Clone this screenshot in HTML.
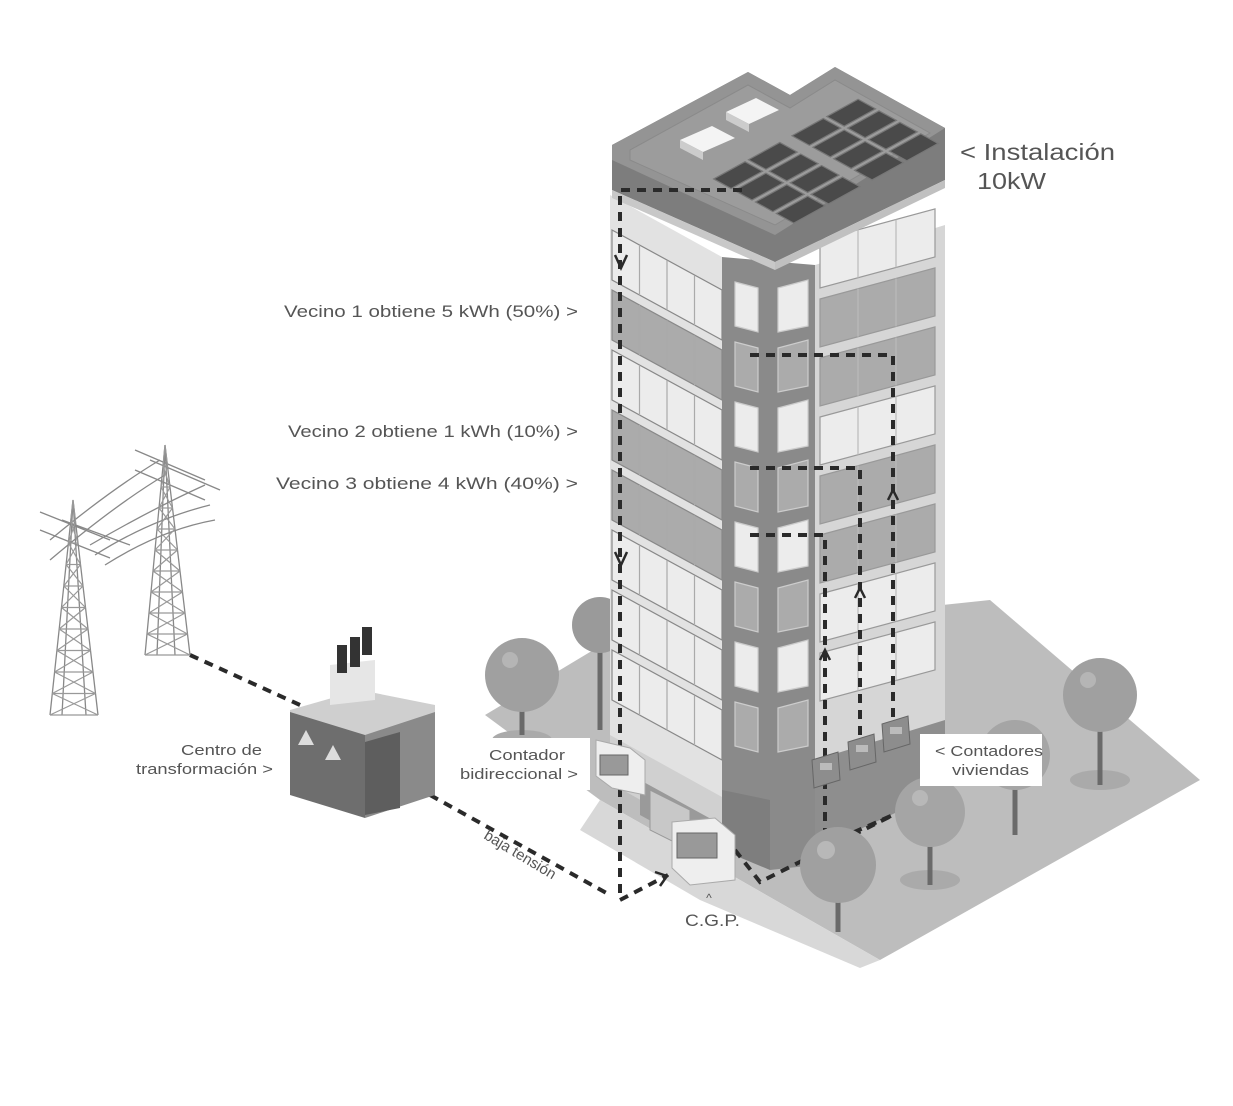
<!DOCTYPE html>
<html><head><meta charset="utf-8">
<style>
html,body{margin:0;padding:0;background:#fff;}
svg{display:block;}
text{font-family:"Liberation Sans",sans-serif;fill:#555;}
</style></head>
<body>
<svg id="s" width="1233" height="1106" viewBox="0 0 1233 1106" xmlns="http://www.w3.org/2000/svg">
<rect width="1233" height="1106" fill="#fff"/>
<polygon points="485,715 610,640 990,600 1200,780 880,960 740,880 600,800" fill="#bdbdbd"/>
<polygon points="600,800 740,880 880,960 860,968 700,900 580,830" fill="#d8d8d8"/>
<g id="trees-back">
<line x1="600" y1="640" x2="600" y2="730" stroke="#6a6a6a" stroke-width="5"/>
<circle cx="600" cy="625" r="28" fill="#9a9a9a"/>
<ellipse cx="522" cy="740" rx="30" ry="10" fill="#aaa"/>
<line x1="522" y1="690" x2="522" y2="735" stroke="#6a6a6a" stroke-width="5"/>
<circle cx="522" cy="675" r="37" fill="#a0a0a0"/>
<circle cx="510" cy="660" r="8" fill="#b5b5b5"/>
<ellipse cx="1100" cy="780" rx="30" ry="10" fill="#aaa"/>
<line x1="1100" y1="700" x2="1100" y2="785" stroke="#6a6a6a" stroke-width="5"/>
<circle cx="1100" cy="695" r="37" fill="#a0a0a0"/>
<circle cx="1088" cy="680" r="8" fill="#b5b5b5"/>
<line x1="1015" y1="760" x2="1015" y2="835" stroke="#6a6a6a" stroke-width="5"/>
<circle cx="1015" cy="755" r="35" fill="#a5a5a5"/>
</g>
<polygon points="610,195 722,257 722,830 610,768" fill="#e2e2e2"/>
<polygon points="722,257 815,265 815,850 722,830" fill="#8a8a8a"/>
<polygon points="815,265 945,225 945,790 815,850" fill="#d6d6d6"/>
<polygon points="610,735 722,797 722,845 610,783" fill="#d0d0d0"/>
<polygon points="640,780 722,825 722,860 640,815" fill="#9a9a9a"/>
<polygon points="722,790 770,800 770,870 722,850" fill="#7e7e7e"/>
<polygon points="770,800 815,790 815,865 770,870" fill="#8a8a8a"/>
<polygon points="815,760 945,720 945,790 815,850" fill="#8e8e8e"/>
<polygon points="650,790 690,810 690,850 650,830" fill="#c8c8c8" stroke="#999"/>
<g id="win"></g>
<polygon points="612,145 748,72 790,95 835,67 945,128 945,180 775,262 612,190" fill="#7d7d7d"/>
<polygon points="612,145 748,72 790,95 835,67 945,128 775,235 612,160" fill="#949494"/>
<polygon points="630,150 748,85 790,108 835,80 930,133 775,225 630,160" fill="#9c9c9c" stroke="#8a8a8a"/>
<polygon points="612,190 775,262 775,270 612,198" fill="#c8c8c8"/>
<polygon points="775,262 945,180 945,188 775,270" fill="#c0c0c0"/>
<polygon points="680,140 712,126 735,138 703,152" fill="#f4f4f4"/>
<polygon points="680,140 703,152 703,160 680,148" fill="#ccc"/>
<polygon points="726,112 756,98 779,110 749,124" fill="#f4f4f4"/>
<polygon points="726,112 749,124 749,132 726,120" fill="#ccc"/>
<g id="pan"></g>
<g fill="none" stroke="#2a2a2a" stroke-width="4" stroke-dasharray="9,7">
<polyline points="742,190 620,190 620,900"/>
<polyline points="750,355 893,355 893,720"/>
<polyline points="750,468 860,468 860,745"/>
<polyline points="750,535 825,535 825,845 893,815"/>
<polyline points="620,900 668,875"/>
<polyline points="735,850 760,882 893,815"/>
<polyline points="190,655 300,705"/>
<polyline points="430,795 610,895"/>
</g>
<g fill="none" stroke="#2a2a2a" stroke-width="2.5">
<polyline points="615,255 621,268 627,255"/>
<polyline points="615,552 621,565 627,552"/>
<polyline points="888,500 893,490 898,500"/>
<polyline points="855,598 860,588 865,598"/>
<polyline points="820,660 825,650 830,660"/>
<polyline points="655,872 667,876 660,886"/>
</g>
<g>
<polygon points="812,760 838,752 840,780 814,788" fill="#8d8d8d" stroke="#666"/>
<polygon points="848,742 874,734 876,762 850,770" fill="#8d8d8d" stroke="#666"/>
<polygon points="882,724 908,716 910,744 884,752" fill="#8d8d8d" stroke="#666"/>
<rect x="820" y="763" width="12" height="7" fill="#bbb"/>
<rect x="856" y="745" width="12" height="7" fill="#bbb"/>
<rect x="890" y="727" width="12" height="7" fill="#bbb"/>
</g>
<polygon points="596,740 630,748 645,760 645,795 612,788 596,776" fill="#eee" stroke="#aaa"/>
<rect x="600" y="755" width="28" height="20" fill="#999" stroke="#666"/>
<polygon points="672,822 715,818 735,835 735,880 690,885 672,868" fill="#eee" stroke="#aaa"/>
<rect x="677" y="833" width="40" height="25" fill="#999" stroke="#666"/>
<ellipse cx="930" cy="880" rx="30" ry="10" fill="#aaa"/>
<line x1="930" y1="830" x2="930" y2="885" stroke="#6a6a6a" stroke-width="5"/>
<circle cx="930" cy="812" r="35" fill="#a5a5a5"/>
<circle cx="920" cy="798" r="8" fill="#b8b8b8"/>
<line x1="838" y1="880" x2="838" y2="932" stroke="#6a6a6a" stroke-width="5"/>
<circle cx="838" cy="865" r="38" fill="#a0a0a0"/>
<circle cx="826" cy="850" r="9" fill="#b8b8b8"/>
<rect x="920" y="734" width="122" height="52" fill="#fff"/>
<rect x="452" y="738" width="138" height="52" fill="#fff"/>
<g stroke="#888" stroke-width="1.3" fill="none" id="pyl">
<path d="M73,500 L50,715 M73,500 L98,715 M73,500 L62,715 M73,500 L86,715"/>
<path d="M165,445 L145,655 M165,445 L190,655 M165,445 L157,655 M165,445 L175,655"/>
<path d="M40,512 L110,540 M40,530 L110,558 M62,520 L130,545"/>
<path d="M135,450 L205,480 M135,470 L205,500 M150,460 L220,490"/>
<path d="M50,540 Q110,490 160,460 M50,560 Q115,505 165,475 M90,545 Q150,510 205,485 M95,555 Q150,520 210,505 M105,565 Q160,530 215,520"/>
</g>
<g id="lat" stroke="#999" stroke-width="0.8" fill="none"></g>
<polygon points="290,710 360,690 435,705 435,720 365,740 290,718" fill="#cfcfcf"/>
<polygon points="290,712 365,735 365,818 290,795" fill="#6e6e6e"/>
<polygon points="365,735 435,712 435,795 365,818" fill="#8a8a8a"/>
<polygon points="365,742 400,732 400,808 365,815" fill="#5e5e5e"/>
<polygon points="330,665 375,660 375,700 330,705" fill="#e6e6e6"/>
<rect x="337" y="645" width="10" height="28" fill="#333"/><rect x="350" y="637" width="10" height="30" fill="#333"/><rect x="362" y="627" width="10" height="28" fill="#333"/>
<polygon points="298,745 306,730 314,745" fill="#ddd"/><polygon points="325,760 333,745 341,760" fill="#ddd"/>
<text x="960" y="160" font-size="23" textLength="155" lengthAdjust="spacingAndGlyphs">&lt; Instalación</text>
<text x="977" y="189" font-size="23" textLength="69" lengthAdjust="spacingAndGlyphs">10kW</text>
<text x="284" y="317" font-size="17" textLength="294" lengthAdjust="spacingAndGlyphs">Vecino 1 obtiene 5 kWh (50%) &gt;</text>
<text x="288" y="437" font-size="17" textLength="290" lengthAdjust="spacingAndGlyphs">Vecino 2 obtiene 1 kWh (10%) &gt;</text>
<text x="276" y="489" font-size="17" textLength="302" lengthAdjust="spacingAndGlyphs">Vecino 3 obtiene 4 kWh (40%) &gt;</text>
<text x="181" y="755" font-size="15" textLength="81" lengthAdjust="spacingAndGlyphs">Centro de</text>
<text x="136" y="774" font-size="15" textLength="137" lengthAdjust="spacingAndGlyphs">transformación &gt;</text>
<text x="489" y="760" font-size="15" textLength="76" lengthAdjust="spacingAndGlyphs">Contador</text>
<text x="460" y="779" font-size="15" textLength="118" lengthAdjust="spacingAndGlyphs">bidireccional &gt;</text>
<text x="935" y="756" font-size="15" textLength="108" lengthAdjust="spacingAndGlyphs">&lt; Contadores</text>
<text x="952" y="775" font-size="15" textLength="77" lengthAdjust="spacingAndGlyphs">viviendas</text>
<text x="709" y="902" font-size="12" text-anchor="middle">^</text>
<text x="685" y="926" font-size="17" textLength="55" lengthAdjust="spacingAndGlyphs">C.G.P.</text>
<text x="0" y="0" font-size="15" transform="translate(483,838) rotate(31)">baja tensión</text>
</svg>
<script>
var NS="http://www.w3.org/2000/svg";
function P(g,pts,f,s){var p=document.createElementNS(NS,"polygon");p.setAttribute("points",pts);p.setAttribute("fill",f);if(s){p.setAttribute("stroke",s);p.setAttribute("stroke-width","1.2");}g.appendChild(p);}
function L(g,x1,y1,x2,y2,c){var l=document.createElementNS(NS,"line");l.setAttribute("x1",x1);l.setAttribute("y1",y1);l.setAttribute("x2",x2);l.setAttribute("y2",y2);l.setAttribute("stroke",c);l.setAttribute("stroke-width","1.2");g.appendChild(l);}
var w=document.getElementById("win");
var ld=["#ececec","#ababab","#ececec","#ababab","#ababab","#ececec","#ececec","#ececec"];
var rd=["#ececec","#ababab","#ababab","#ececec","#ababab","#ababab","#ececec","#ececec"];
for(var k=0;k<8;k++){
 var y=230+60*k, s=0.55;
 P(w,"612,"+y+" 722,"+(y+60)+" 722,"+(y+110)+" 612,"+(y+50),ld[k],"#888");
 for(var j=1;j<4;j++){var x=612+j*27.5;L(w,x,y+(x-612)*s,x,y+50+(x-612)*s,"#aaa");}
 var yy=y+52;
 P(w,"735,"+yy+" 758,"+(yy+6)+" 758,"+(yy+50)+" 735,"+(yy+44),(k%2?"#ababab":"#ececec"),"#ccc");
 P(w,"778,"+(yy+6)+" 808,"+(yy-2)+" 808,"+(yy+44)+" 778,"+(yy+50),(k%2?"#ababab":"#ececec"),"#ccc");
 var r=240+59*k, t=-0.27;
 P(w,"820,"+r+" 935,"+(r+115*t)+" 935,"+(r+115*t+48)+" 820,"+(r+48),rd[k],"#999");
 for(var j=1;j<3;j++){var x=820+j*38;L(w,x,r+(x-820)*t,x,r+48+(x-820)*t,"#bbb");}
}
var pg=document.getElementById("pan");
function S(u,v){return [705+u*0.87+v*0.87,178+u*0.48-v*0.48];}
function panel(u,v){var a=S(u,v),b=S(u,v+36),c=S(u+20,v+36),d=S(u+20,v);
 P(pg,a+" "+b+" "+c+" "+d,"#4a4a4a","#777");}
for(var cgrp=0;cgrp<2;cgrp++)for(var col=0;col<2;col++)for(var row=0;row<4;row++){panel(row*24+6,cgrp*90+col*40+4);}
var lat=document.getElementById("lat");
function lattice(ax,ay,bl,br,by){for(var i=0;i<10;i++){var t1=i/10,t2=(i+1)/10;
 var y1=ay+(by-ay)*t1,y2=ay+(by-ay)*t2;
 var l1=ax+(bl-ax)*t1,r1=ax+(br-ax)*t1,l2=ax+(bl-ax)*t2,r2=ax+(br-ax)*t2;
 L(lat,l1,y1,r2,y2,"#999");L(lat,r1,y1,l2,y2,"#999");L(lat,l2,y2,r2,y2,"#999");}}
lattice(73,500,50,98,715);lattice(165,445,145,190,655);
</script>
</body></html>
